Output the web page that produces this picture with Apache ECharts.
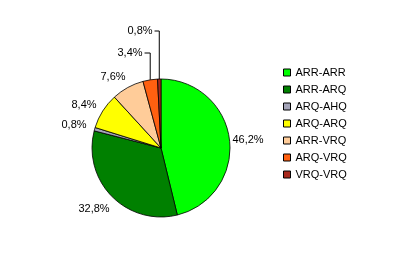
<!DOCTYPE html>
<html>
<head>
<meta charset="utf-8">
<script src="https://cdn.jsdelivr.net/npm/echarts@6/dist/echarts.min.js"></script>
<style>
  html, body { margin: 0; padding: 0; background: #fff; }
  #chart { width: 396px; height: 270px; }
</style>
</head>
<body>
<div id="chart"></div>
<script>
// 数据
const categories = ['ARR-ARR', 'ARR-ARQ', 'ARQ-AHQ', 'ARQ-ARQ', 'ARR-VRQ', 'ARQ-VRQ', 'VRQ-VRQ'];
const values = [46.2, 32.8, 0.8, 8.4, 7.6, 3.4, 0.8];
const labelTexts = ['46,2%', '32,8%', '0,8%', '8,4%', '7,6%', '3,4%', '0,8%'];

// 样式
const colors = ['#00ff00', '#008000', '#a4a4b8', '#ffff00', '#ffcc99', '#ff6010', '#a8281c'];
// 标签中心位置（像素）
const labelPos = [[248, 140], [94, 209], [74, 125], [84, 105], [113, 77], [130, 53], [140, 31]];
const hasLeader = [false, false, false, false, false, true, true];

const chart = echarts.init(document.getElementById('chart'));

chart.setOption({
    animation: false,
    backgroundColor: '#fff',
    textStyle: { fontFamily: 'Liberation Sans, Arial, sans-serif' },
    legend: {
        orient: 'vertical',
        left: 278,
        top: 62,
        itemWidth: 7,
        itemHeight: 7,
        itemGap: 6,
        icon: 'rect',
        itemStyle: { borderColor: '#000', borderWidth: 1 },
        textStyle: { fontSize: 11, color: '#000' },
        data: categories
    },
    series: [{
        type: 'pie',
        center: [161, 148],
        radius: [0, 69],
        startAngle: 90,
        clockwise: true,
        avoidLabelOverlap: false,
        itemStyle: { borderColor: '#000', borderWidth: 0.8 },
        label: {
            show: true,
            position: 'outside',
            fontSize: 11,
            color: '#000',
            formatter: p => labelTexts[p.dataIndex]
        },
        labelLine: { show: true, lineStyle: { color: '#000', width: 1 } },
        labelLayout: function (params) {
            const i = params.dataIndex;
            const p = labelPos[i];
            const out = { x: p[0], y: p[1], align: 'center', verticalAlign: 'middle' };
            if (hasLeader[i] && params.labelLinePoints) {
                const a = params.labelLinePoints[0];
                const endX = p[0] + params.labelRect.width / 2 + 2;
                out.labelLinePoints = [[a[0], a[1]], [a[0], p[1]], [endX, p[1]]];
            } else {
                out.labelLinePoints = [[p[0], p[1]], [p[0], p[1]]];
            }
            return out;
        },
        data: categories.map((c, i) => ({
            name: c,
            value: values[i],
            itemStyle: { color: colors[i] },
            labelLine: { show: hasLeader[i] }
        }))
    }]
});
</script>
</body>
</html>
